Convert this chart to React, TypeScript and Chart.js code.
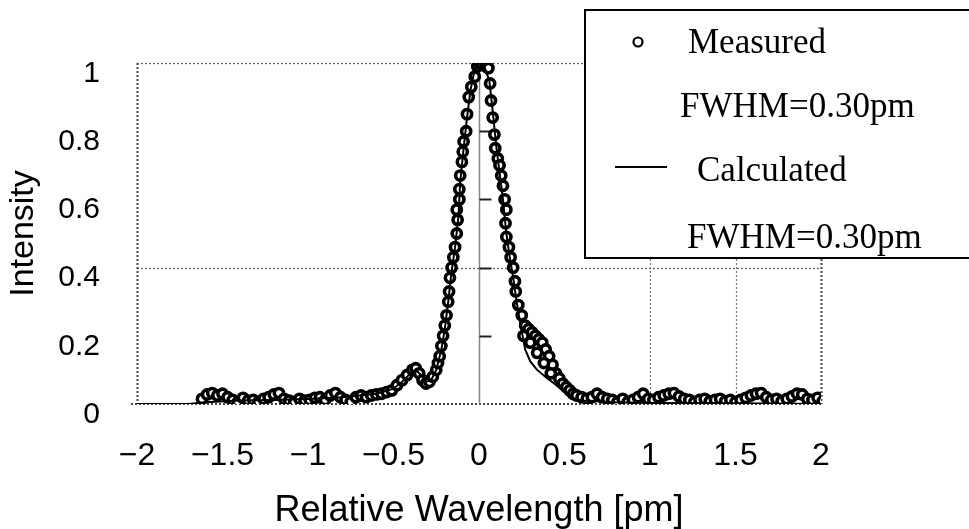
import React, { useEffect, useRef } from "react";
import { Chart, registerables } from "chart.js";

Chart.register(...registerables);

// ---- Data ----
const measuredX = [
  -1.62, -1.59, -1.56, -1.53, -1.5, -1.47, -1.44, -1.41, -1.38, -1.35, -1.32, -1.29, -1.26, -1.23,
  -1.2, -1.17, -1.14, -1.11, -1.08, -1.05, -1.02, -0.99, -0.96, -0.93, -0.9, -0.87, -0.84, -0.81,
  -0.78, -0.75, -0.72, -0.69, -0.66, -0.63, -0.6, -0.57, -0.54, -0.51, -0.48, -0.45, -0.42, -0.39,
  -0.37, -0.35, -0.33, -0.31, -0.29, -0.27, -0.25, -0.24, -0.23, -0.22, -0.21, -0.2, -0.19, -0.18,
  -0.175, -0.17, -0.16, -0.15, -0.14, -0.13, -0.125, -0.13, -0.115, -0.115, -0.11, -0.1, -0.095,
  -0.09, -0.075, -0.07, -0.06, -0.045, -0.025, -0.01, 0.0, 0.02, 0.04, 0.055, 0.065, 0.07, 0.08,
  0.09, 0.095, 0.11, 0.12, 0.13, 0.14, 0.15, 0.16, 0.155, 0.16, 0.175, 0.185, 0.2, 0.21, 0.215,
  0.23, 0.25, 0.27, 0.29, 0.31, 0.33, 0.35, 0.37, 0.39, 0.41, 0.43, 0.45, 0.47, 0.49, 0.51, 0.53,
  0.55, 0.57, 0.26, 0.3, 0.34, 0.38, 0.42, 0.6, 0.63, 0.66, 0.69, 0.72, 0.75, 0.78, 0.81, 0.84,
  0.87, 0.9, 0.93, 0.96, 0.99, 1.02, 1.05, 1.08, 1.11, 1.14, 1.17, 1.2, 1.23, 1.26, 1.29, 1.32,
  1.35, 1.38, 1.41, 1.44, 1.47, 1.5, 1.53, 1.56, 1.59, 1.62, 1.65, 1.68, 1.71, 1.74, 1.77, 1.8,
  1.83, 1.86, 1.89, 1.92, 1.95, 1.98, 2.01,
];
const measuredY = [
  0.015, 0.028, 0.032, 0.025, 0.03, 0.02, 0.012, 0.006, 0.018, 0.01, 0.012, 0.006, 0.015, 0.02,
  0.028, 0.032, 0.015, 0.01, 0.006, 0.015, 0.01, 0.012, 0.018, 0.02, 0.012, 0.025, 0.032, 0.02,
  0.012, 0.006, 0.02, 0.025, 0.02, 0.025, 0.028, 0.03, 0.035, 0.04, 0.055, 0.07, 0.085, 0.1,
  0.105, 0.09, 0.07, 0.06, 0.065, 0.08, 0.1, 0.12, 0.14, 0.17, 0.2, 0.23, 0.26, 0.3,
  0.33, 0.37, 0.4, 0.43, 0.46, 0.5, 0.54, 0.57, 0.6, 0.63, 0.67, 0.71, 0.74,
  0.77, 0.8, 0.85, 0.9, 0.93, 0.96, 0.99, 1.0, 0.995, 0.99, 0.985, 0.94, 0.89, 0.84,
  0.79, 0.75, 0.72, 0.7, 0.67, 0.64, 0.6, 0.57, 0.53, 0.49, 0.46, 0.43, 0.4, 0.36, 0.33,
  0.29, 0.26, 0.23, 0.22, 0.21, 0.2, 0.19, 0.18, 0.16, 0.14, 0.115, 0.09, 0.075, 0.06, 0.05, 0.04,
  0.03, 0.025, 0.2, 0.18, 0.15, 0.12, 0.09, 0.02, 0.015, 0.02, 0.03, 0.02, 0.015, 0.012, 0.006, 0.015,
  0.006, 0.012, 0.02, 0.03, 0.015, 0.012, 0.02, 0.025, 0.03, 0.032, 0.022, 0.015, 0.012, 0.006, 0.012, 0.015,
  0.008, 0.012, 0.015, 0.008, 0.012, 0.006, 0.012, 0.018, 0.025, 0.03, 0.032, 0.02, 0.012, 0.015, 0.008, 0.015,
  0.022, 0.03, 0.028, 0.015, 0.012, 0.018, 0.008,
];

const calculatedX = [
  -2.0, -1.7, -1.6, -1.4, -1.2, -1.0, -0.8, -0.6, -0.5, -0.45, -0.4, -0.37, -0.34, -0.31, -0.28,
  -0.25, -0.22, -0.2, -0.18, -0.16, -0.14, -0.12, -0.11, -0.09, -0.07, -0.05, -0.03, 0.0, 0.03,
  0.06, 0.08, 0.1, 0.12, 0.14, 0.16, 0.18, 0.2, 0.22, 0.24, 0.27, 0.3, 0.34, 0.4, 0.44, 0.51,
  0.56, 0.6, 0.8, 1.0, 1.5, 2.0,
];
const calculatedY = [
  0.0, 0.0, 0.005, 0.01, 0.012, 0.015, 0.02, 0.03, 0.045, 0.065, 0.09, 0.1, 0.085, 0.065, 0.07,
  0.1, 0.16, 0.22, 0.3, 0.39, 0.46, 0.55, 0.65, 0.75, 0.84, 0.92, 0.97, 1.0, 0.99,
  0.95, 0.86, 0.76, 0.68, 0.6, 0.5, 0.43, 0.37, 0.3, 0.24, 0.16, 0.125, 0.1, 0.075, 0.06, 0.031,
  0.015, 0.01, 0.005, 0.003, 0.002, 0.0,
];

const xTicks = [-2, -1.5, -1, -0.5, 0, 0.5, 1, 1.5, 2];
const yTicks = [0, 0.2, 0.4, 0.6, 0.8, 1];
const xGridShown = [-2, 1, 1.5, 2];
const yGridShown = [0.4, 1];
const xTitle = "Relative Wavelength [pm]";
const yTitle = "Intensity";
const legendLabels = ["Measured", "FWHM=0.30pm", "Calculated", "FWHM=0.30pm"];

const SANS = '"Liberation Sans", Arial, sans-serif';
const SERIF = '"Liberation Serif", "Times New Roman", serif';

const gridPlugin = {
  id: "sketchGrid",
  beforeDatasetsDraw(chart: any) {
    const { ctx, chartArea } = chart;
    const xs = chart.scales.x;
    const ys = chart.scales.y;
    ctx.save();
    ctx.strokeStyle = "#666";
    ctx.lineWidth = 1.3;
    ctx.setLineDash([2, 2]);
    for (const v of yGridShown) {
      const y = Math.round(ys.getPixelForValue(v)) + 0.5;
      ctx.beginPath();
      ctx.moveTo(chartArea.left, y);
      ctx.lineTo(chartArea.right, y);
      ctx.stroke();
    }
    for (const v of xGridShown) {
      const x = Math.round(xs.getPixelForValue(v)) + 0.5;
      ctx.lineWidth = v === -2 || v === 2 ? 2.2 : 1.2;
      ctx.strokeStyle = v === -2 || v === 2 ? "#555" : "#777";
      ctx.beginPath();
      ctx.moveTo(x, chartArea.top);
      ctx.lineTo(x, chartArea.bottom);
      ctx.stroke();
    }
    // bottom border
    ctx.lineWidth = 2;
    ctx.strokeStyle = "#444";
    ctx.beginPath();
    ctx.moveTo(chartArea.left - 6, chartArea.bottom);
    ctx.lineTo(chartArea.right, chartArea.bottom);
    ctx.stroke();
    // axis at x = 0 with inner tick marks
    ctx.setLineDash([]);
    const x0 = Math.round(xs.getPixelForValue(0)) + 0.5;
    ctx.strokeStyle = "#888";
    ctx.lineWidth = 1.5;
    ctx.beginPath();
    ctx.moveTo(x0, ys.getPixelForValue(0));
    ctx.lineTo(x0, ys.getPixelForValue(1));
    ctx.stroke();
    ctx.strokeStyle = "#222";
    ctx.lineWidth = 2;
    for (const v of yTicks) {
      if (v === 0 || v === 1) continue;
      const y = Math.round(ys.getPixelForValue(v)) + 0.5;
      ctx.beginPath();
      ctx.moveTo(x0, y);
      ctx.lineTo(x0 + 12, y);
      ctx.stroke();
    }
    ctx.restore();
  },
};

const legendPlugin = {
  id: "sketchLegend",
  afterDraw(chart: any) {
    const { ctx } = chart;
    ctx.save();
    ctx.fillStyle = "#fff";
    ctx.fillRect(585, 10, 400, 248);
    ctx.strokeStyle = "#000";
    ctx.lineWidth = 2;
    ctx.strokeRect(585, 10, 400, 248);
    ctx.fillStyle = "#000";
    ctx.font = `35px ${SERIF}`;
    ctx.textBaseline = "alphabetic";
    ctx.textAlign = "left";
    ctx.fillText(legendLabels[0], 688, 53);
    ctx.fillText(legendLabels[1], 680, 117);
    ctx.fillText(legendLabels[2], 697, 181);
    ctx.fillText(legendLabels[3], 687, 248);
    // markers
    ctx.lineWidth = 2.2;
    ctx.beginPath();
    ctx.arc(638, 42, 4.5, 0, Math.PI * 2);
    ctx.stroke();
    ctx.beginPath();
    ctx.moveTo(615, 167);
    ctx.lineTo(667, 167);
    ctx.stroke();
    ctx.restore();
  },
};

const fmtX = (v: number) => (v < 0 ? "\u2212" + String(Math.abs(v)) : String(v));

export default function App() {
  const ref = useRef<HTMLCanvasElement | null>(null);
  useEffect(() => {
    if (!ref.current) return;
    const chart = new Chart(ref.current, {
      type: "scatter",
      data: {
        datasets: [
          {
            label: "Calculated",
            data: calculatedX.map((x, i) => ({ x, y: calculatedY[i] })),
            showLine: true,
            borderColor: "#000",
            borderWidth: 2,
            pointRadius: 0,
            tension: 0,
            order: 0,
          },
          {
            label: "Measured",
            data: measuredX.map((x, i) => ({ x, y: measuredY[i] })),
            showLine: false,
            pointStyle: "circle",
            pointRadius: 4.6,
            borderWidth: 3.6,
            borderColor: "#000",
            backgroundColor: "#fff",
            order: 1,
          },
        ],
      },
      options: {
        responsive: false,
        animation: false,
        layout: { padding: { left: 0, top: 63, right: 148, bottom: 0 } },
        plugins: {
          legend: { display: false },
          tooltip: { enabled: false },
        },
        scales: {
          x: {
            type: "linear",
            min: -2,
            max: 2,
            afterBuildTicks: (s: any) => {
              s.ticks = xTicks.map((v) => ({ value: v }));
            },
            afterFit: (s: any) => {
              s.height = 125;
            },
            grid: { display: false, drawTicks: false },
            border: { display: false },
            ticks: {
              callback: (v: any) => fmtX(Number(v)),
              color: "#000",
              font: { family: SANS, size: 32 },
              padding: 33,
              maxRotation: 0,
              autoSkip: false,
            },
            title: {
              display: true,
              text: xTitle,
              color: "#000",
              font: { family: SANS, size: 36 },
              padding: { top: 0, bottom: -4 },
            },
          },
          y: {
            type: "linear",
            min: 0,
            max: 1,
            afterBuildTicks: (s: any) => {
              s.ticks = yTicks.map((v) => ({ value: v }));
            },
            afterFit: (s: any) => {
              s.width = 137;
            },
            grid: { display: false, drawTicks: false },
            border: { display: false },
            ticks: {
              callback: (v: any) => ["", String(Number(Number(v).toFixed(1)))],
              color: "#000",
              font: { family: SANS, size: 30, lineHeight: "21px" },
              padding: 37,
              autoSkip: false,
            },
            title: {
              display: true,
              text: yTitle,
              color: "#000",
              font: { family: SANS, size: 34 },
              padding: { top: 3, bottom: 0 },
            },
          },
        },
      },
      plugins: [gridPlugin, legendPlugin],
    } as any);
    return () => chart.destroy();
  }, []);
  return (
    <div style={{ position: "fixed", left: 0, top: 0, width: 969, height: 529, background: "#fff" }}>
      <canvas ref={ref} width={969} height={529} style={{ display: "block" }} />
    </div>
  );
}
